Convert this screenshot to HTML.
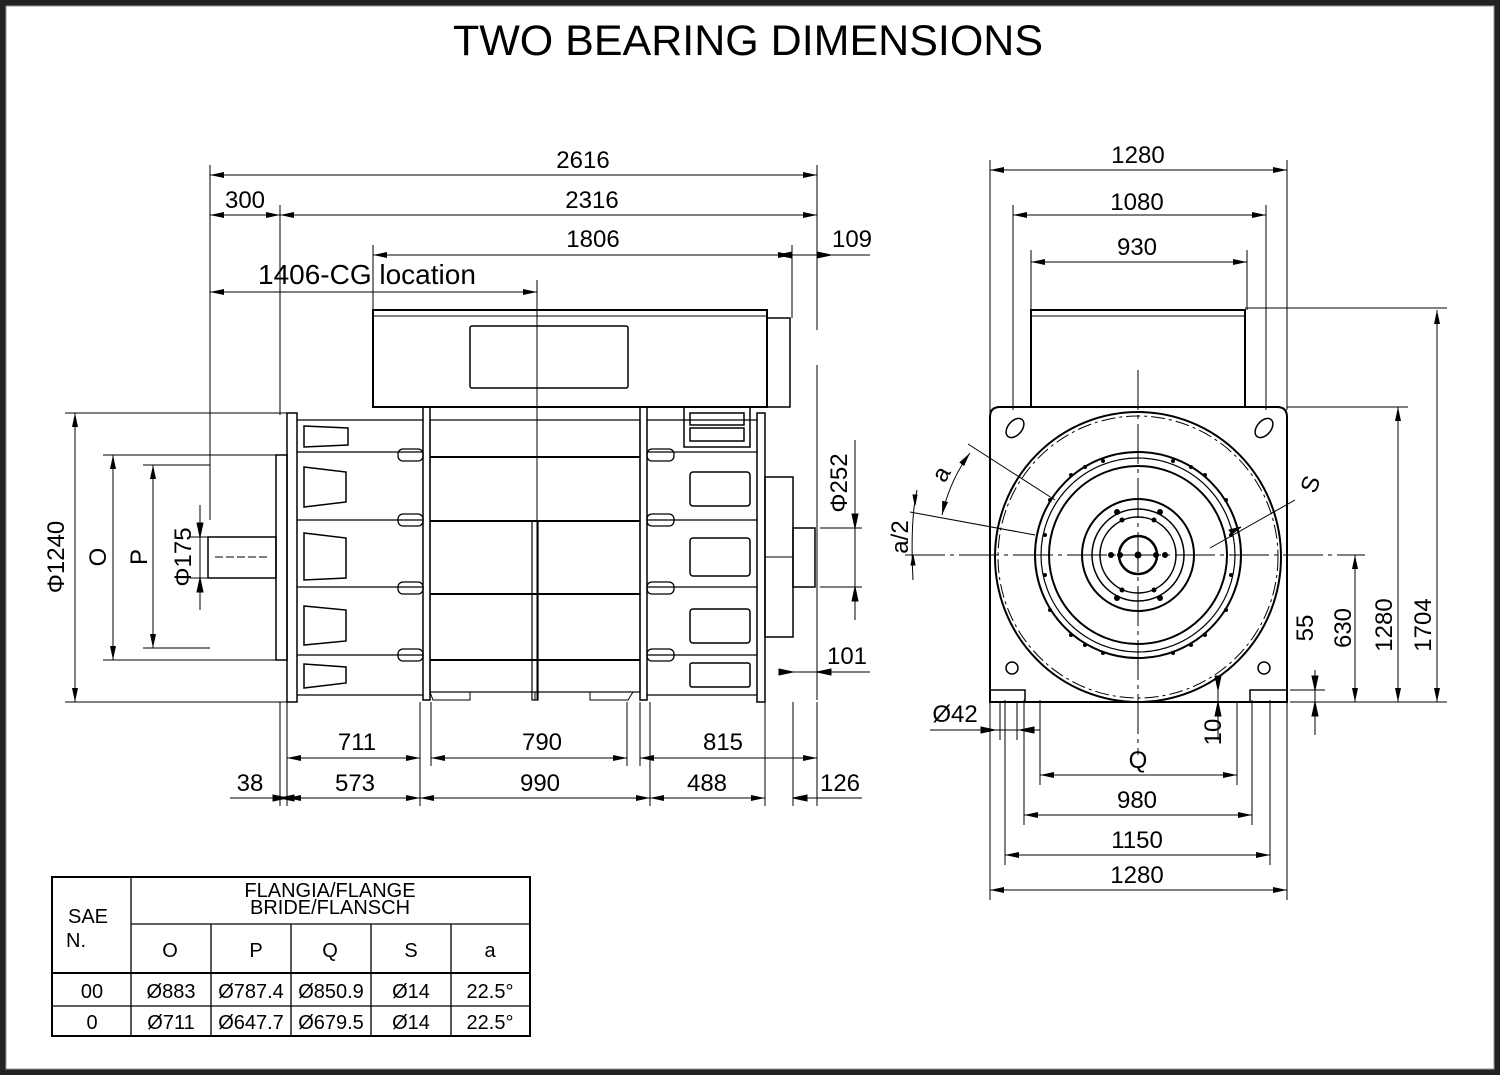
<!DOCTYPE html>
<html><head><meta charset="utf-8"><style>
html,body{margin:0;padding:0;background:#fff}
svg{display:block}
text{font-family:"Liberation Sans",sans-serif;fill:#000}
</style></head><body>
<svg width="1500" height="1075" viewBox="0 0 1500 1075" xmlns="http://www.w3.org/2000/svg">
<defs>
<marker id="a" viewBox="0 0 14 6" refX="14" refY="3" markerWidth="14" markerHeight="6" markerUnits="userSpaceOnUse" orient="auto-start-reverse"><path d="M0,0 L14,3 L0,6 z" fill="#000"/></marker>
</defs>
<rect x="3" y="3" width="1494" height="1069" fill="#fff" stroke="#222" stroke-width="6"/>
<rect x="6" y="6" width="1488" height="1063" fill="none" stroke="#999" stroke-width="1"/>
<text x="748" y="55" font-size="43" text-anchor="middle">TWO BEARING DIMENSIONS</text>

<g stroke="#000" fill="none" stroke-width="1">
<path d="M210,165V520 M280,205V415 M373,245V310 M792,245V318 M817,165V330 M537,280V700"/>
<path d="M817,365V700"/>
<g marker-start="url(#a)" marker-end="url(#a)">
<path d="M210,175H817"/><path d="M210,215H280"/><path d="M280,215H817"/>
<path d="M373,255H792"/><path d="M210,292H537"/>
<path d="M75,413V702"/><path d="M113,455V660"/><path d="M153,465V648"/>
<path d="M287,758H420"/><path d="M431,758H627"/><path d="M640,758H817"/>
<path d="M287,798H420"/><path d="M420,798H650"/><path d="M650,798H765"/>
</g>
<path d="M792,255H870" />
<path d="M778,255l14,-3v6z M831,255l-14,-3v6z" fill="#000"/>
<path d="M200,505V610" />
<path d="M200,537l-3,-14h6z M200,578l-3,14h6z" fill="#000"/>
<path d="M855,440V620"/>
<path d="M855,528l-3,-14h6z M855,587l-3,14h6z" fill="#000"/>
<path d="M779,672H870"/><path d="M793,672l-14,-3v6z M817,672l14,-3v6z" fill="#000"/>
<path d="M230,798H287"/><path d="M287,798l-14,-3v6z M280,798l14,-3v6z" fill="#000"/>
<path d="M793,798H862"/><path d="M793,798l14,-3v6z" fill="#000"/>
<path d="M65,413H290 M103,455H278 M143,465H210 M143,648H210 M103,660H278 M65,702H290 M190,537H210 M190,578H210"/>
<path d="M820,528H862 M820,587H862"/>
<path d="M280,702V806 M287,702V806 M420,702V806 M431,702V766 M627,702V766 M640,702V766 M650,702V806 M765,702V806 M793,702V806 M817,702V806"/>

<rect x="373" y="310" width="394" height="97" stroke-width="2"/>
<path d="M373,316H767" />
<rect x="767" y="318" width="23" height="89" stroke-width="1.5"/>
<rect x="470" y="326" width="158" height="62" rx="2" stroke-width="1.5"/>
<rect x="276" y="455" width="11" height="205" stroke-width="1.5"/>
<rect x="287" y="413" width="10" height="289" stroke-width="1.5"/>
<rect x="208" y="537" width="68" height="41" stroke-width="1.5"/>
<path d="M215,557H270" stroke-dasharray="8 3"/>
<path d="M297,420H423 M297,452H423 M297,520H423 M297,587H423 M297,655H423 M297,695H423" stroke-width="1.2"/>
<path d="M647,420H757 M647,452H757 M647,520H757 M647,587H757 M647,655H757 M647,695H757" stroke-width="1.2"/>
<rect x="423" y="407" width="7" height="293" stroke-width="1.5"/>
<rect x="640" y="407" width="7" height="293" stroke-width="1.5"/>
<rect x="430" y="420" width="210" height="272" stroke-width="1.2"/>
<path d="M430,457H640 M430,521H640 M430,594H640 M430,660H640" stroke-width="2"/>
<rect x="532" y="521" width="6" height="179" stroke-width="1.2"/>
<path d="M430,692l3,8H470V692 M535,692V700 M590,692V700H628l5,-8" />
<rect x="757" y="413" width="8" height="289" stroke-width="1.5"/>
<rect x="765" y="477" width="28" height="160" stroke-width="1.5"/>
<rect x="793" y="528" width="22" height="59" stroke-width="1.5"/>
<path d="M765,557H793"/>
<g stroke-width="1.3">
<rect x="398" y="449" width="25" height="12" rx="5"/><rect x="398" y="514" width="25" height="12" rx="5"/>
<rect x="398" y="582" width="25" height="12" rx="5"/><rect x="398" y="649" width="25" height="12" rx="5"/>
<rect x="647" y="449" width="27" height="12" rx="5"/><rect x="647" y="514" width="27" height="12" rx="5"/>
<rect x="647" y="582" width="27" height="12" rx="5"/><rect x="647" y="649" width="27" height="12" rx="5"/>
</g>
<g stroke-width="1.5">
<path d="M304,426L348,428V445L304,447Z"/><path d="M304,467L346,472V502L304,507Z"/>
<path d="M304,533L346,538V578L304,580Z"/><path d="M304,606L346,610V641L304,645Z"/>
<path d="M304,664L346,667V683L304,688Z"/>
<rect x="690" y="472" width="60" height="34" rx="3"/><rect x="690" y="538" width="60" height="38" rx="3"/>
<rect x="690" y="609" width="60" height="34" rx="3"/><rect x="690" y="663" width="60" height="24" rx="2"/>
<rect x="684" y="407" width="66" height="40"/><rect x="690" y="413" width="54" height="12"/><rect x="690" y="428" width="54" height="13"/>
</g>

<path d="M1000,407H1277Q1287,407 1287,417V702H990V417Q990,407 1000,407Z" stroke-width="2"/>
<rect x="1031" y="310" width="214" height="97" stroke-width="2"/>
<path d="M1031,316H1245"/>
<rect x="990" y="690" width="35" height="12" stroke-width="1.5"/>
<rect x="1250" y="690" width="37" height="12" stroke-width="1.5"/>
<path d="M1025,702H1250" stroke-width="1.5"/>
<g transform="translate(1015,428) rotate(-50)"><ellipse rx="11" ry="7" stroke-width="1.5"/></g>
<g transform="translate(1264,428) rotate(-50)"><ellipse rx="11" ry="7" stroke-width="1.5"/></g>
<circle cx="1012" cy="668" r="6" stroke-width="1.5"/><circle cx="1264" cy="668" r="6" stroke-width="1.5"/>
<ellipse cx="1138" cy="557" rx="143" ry="145" stroke-width="2"/>
<ellipse cx="1138" cy="557" rx="140" ry="141" stroke-dasharray="14 4 3 4"/>
<circle cx="1138" cy="555" r="103" stroke-width="2"/>
<circle cx="1138" cy="555" r="97" stroke-width="1.2"/>
<circle cx="1138" cy="555" r="89" stroke-width="2"/>
<circle cx="1138" cy="555" r="56" stroke-width="2"/>
<circle cx="1138" cy="555" r="46" stroke-width="1.5"/>
<circle cx="1138" cy="555" r="38" stroke-width="1.5"/>
<circle cx="1138" cy="555" r="19" stroke-width="2.5"/>
<circle cx="1138" cy="555" r="3" fill="#000"/>
<g fill="#000" stroke="none">
<circle cx="1111" cy="555" r="3"/><circle cx="1165" cy="555" r="3"/><circle cx="1120" cy="555" r="3"/><circle cx="1156" cy="555" r="3"/>
<circle cx="1117" cy="512" r="3"/><circle cx="1160" cy="512" r="3"/><circle cx="1117" cy="598" r="3"/><circle cx="1160" cy="598" r="3"/>
<circle cx="1122" cy="520" r="2.5"/><circle cx="1154" cy="520" r="2.5"/><circle cx="1122" cy="590" r="2.5"/><circle cx="1154" cy="590" r="2.5"/>
<circle cx="1103" cy="461" r="2"/><circle cx="1173" cy="461" r="2"/><circle cx="1103" cy="653" r="2"/><circle cx="1173" cy="653" r="2"/>
<circle cx="1071" cy="475" r="2"/><circle cx="1205" cy="475" r="2"/><circle cx="1071" cy="635" r="2"/><circle cx="1205" cy="635" r="2"/>
<circle cx="1045" cy="535" r="2"/><circle cx="1231" cy="535" r="2"/><circle cx="1045" cy="575" r="2"/><circle cx="1231" cy="575" r="2"/>
<circle cx="1050" cy="500" r="2"/><circle cx="1226" cy="500" r="2"/><circle cx="1050" cy="610" r="2"/><circle cx="1226" cy="610" r="2"/>
<circle cx="1085" cy="645" r="2"/><circle cx="1191" cy="645" r="2"/><circle cx="1085" cy="467" r="2"/><circle cx="1191" cy="467" r="2"/>
</g>
<path d="M905,555H1365" stroke-dasharray="40 5 4 5"/>
<path d="M1138,370V755" stroke-dasharray="40 5 4 5"/>
<path d="M968,444L1055,500 M910,512L1035,535"/>
<path d="M970,453Q950,480 942,515" marker-start="url(#a)" marker-end="url(#a)"/>
<path d="M917,490Q910,520 913,580"/>
<path d="M915,505l-2,-10h4z M913,555l-2,10h4z" fill="#000"/>
<path d="M1295,500L1210,548" /><path d="M1241,527l-12,3 3,4z" fill="#000"/>
<path d="M990,160V690 M1287,160V410 M1013,205V410 M1266,205V410 M1031,250V310 M1247,250V310"/>
<g marker-start="url(#a)" marker-end="url(#a)">
<path d="M990,170H1287"/><path d="M1013,215H1266"/><path d="M1031,262H1247"/>
<path d="M1437,310V702"/><path d="M1398,407V702"/><path d="M1355,555V702"/>
<path d="M1040,775H1237"/><path d="M1024,815H1252"/><path d="M1005,855H1270"/><path d="M990,890H1287"/>
</g>
<path d="M1245,308H1447 M1287,407H1408 M1290,702H1447 M1290,690H1325"/>
<path d="M1315,670V735"/>
<path d="M1315,690l-3,-14h6z M1315,702l-3,14h6z" fill="#000"/>
<path d="M1218,680V740 M1185,702H1225" />
<path d="M1218,702l-3,14h6z M1218,690l-3,-14h6z" fill="#000"/>
<path d="M930,730H1040"/>
<path d="M995,730l-14,-3v6z M1020,730l14,-3v6z" fill="#000"/>
<path d="M990,700V900 M1287,700V900 M1005,700V865 M1270,700V865 M1024,700V825 M1252,700V825 M1040,700V785 M1237,702V785 M1000,702V740 M1017,702V740"/>

<rect x="52" y="877" width="478" height="159" stroke-width="2"/>
<path d="M131,877V1036 M131,924H530 M211,924V1036 M291,924V1036 M371,924V1036 M451,924V1036" stroke-width="1.3"/>
<path d="M52,973H530" stroke-width="2"/><path d="M52,1006H530" stroke-width="1.3"/>
</g>

<g font-size="24" text-anchor="middle">
<text x="583" y="168">2616</text><text x="245" y="208">300</text><text x="592" y="208">2316</text>
<text x="593" y="247">1806</text><text x="852" y="247">109</text>
<text x="258" y="284" font-size="28" text-anchor="start">1406-CG location</text>
<text x="847" y="664">101</text>
<text x="357" y="750">711</text><text x="542" y="750">790</text><text x="723" y="750">815</text>
<text x="250" y="791">38</text><text x="355" y="791">573</text><text x="540" y="791">990</text><text x="707" y="791">488</text><text x="840" y="791">126</text>
<text transform="translate(64,557) rotate(-90)">Φ1240</text>
<text transform="translate(106,557) rotate(-90)">O</text>
<text transform="translate(147,557) rotate(-90)">P</text>
<text transform="translate(191,557) rotate(-90)">Φ175</text>
<text transform="translate(847,483) rotate(-90)">Φ252</text>
<text x="1138" y="163">1280</text><text x="1137" y="210">1080</text><text x="1137" y="255">930</text>
<text x="1138" y="768">Q</text><text x="1137" y="808">980</text><text x="1137" y="848">1150</text><text x="1137" y="883">1280</text>
<text x="955" y="722">Ø42</text>
<text transform="translate(1431,625) rotate(-90)">1704</text>
<text transform="translate(1392,625) rotate(-90)">1280</text>
<text transform="translate(1351,628) rotate(-90)">630</text>
<text transform="translate(1313,628) rotate(-90)">55</text>
<text transform="translate(1221,732) rotate(-90)">10</text>
<text transform="translate(948,478) rotate(-60)">a</text>
<text transform="translate(908,537) rotate(-90)">a/2</text>
<text transform="translate(1318,487) rotate(-70)">S</text>
</g>
<g font-size="20" text-anchor="middle">
<text x="330" y="897">FLANGIA/FLANGE</text><text x="330" y="914">BRIDE/FLANSCH</text>
<text x="88" y="923">SAE</text><text x="76" y="947" >N.</text>
<text x="170" y="957">O</text><text x="256" y="957">P</text><text x="330" y="957">Q</text><text x="411" y="957">S</text><text x="490" y="957">a</text>
<text x="92" y="998">00</text><text x="171" y="998">Ø883</text><text x="251" y="998">Ø787.4</text><text x="331" y="998">Ø850.9</text><text x="411" y="998">Ø14</text><text x="490" y="998">22.5°</text>
<text x="92" y="1029">0</text><text x="171" y="1029">Ø711</text><text x="251" y="1029">Ø647.7</text><text x="331" y="1029">Ø679.5</text><text x="411" y="1029">Ø14</text><text x="490" y="1029">22.5°</text>
</g>
</svg>
</body></html>
